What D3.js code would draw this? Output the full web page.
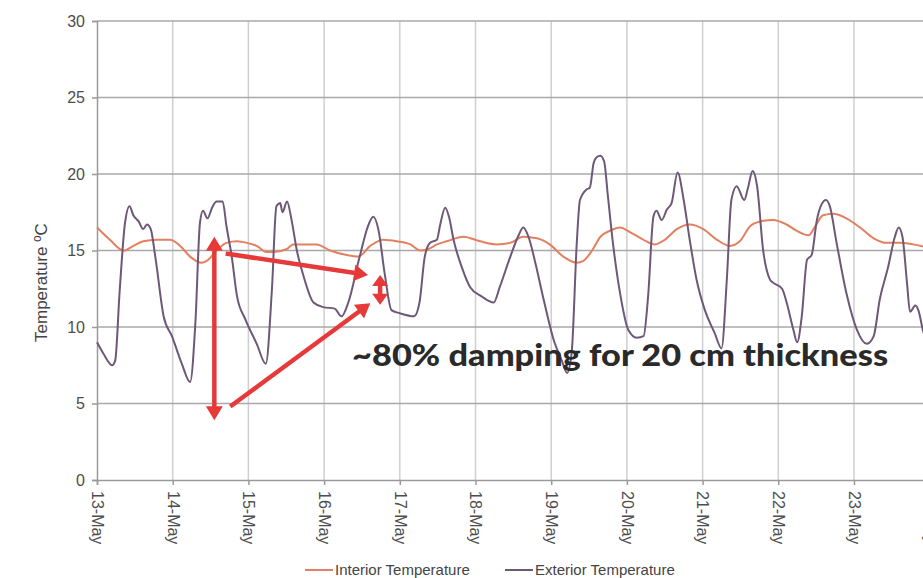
<!DOCTYPE html>
<html>
<head>
<meta charset="utf-8">
<script src="https://cdn.jsdelivr.net/npm/d3@7/dist/d3.min.js"></script>
<style>
  html, body { margin: 0; padding: 0; background: #fff; }
  svg { display: block; }
</style>
</head>
<body>
<svg id="chart" width="923" height="578"></svg>
<script>
// Day labels along the time axis (day 0 = 13 May, 00:00)
const dayLabels = ["13-May", "14-May", "15-May", "16-May", "17-May", "18-May",
                   "19-May", "20-May", "21-May", "22-May", "23-May", "24-May"];
const tempTicks = [0, 5, 10, 15, 20, 25, 30];

// Exterior air temperature (days since 13 May, °C)
const exteriorDay = [0.00,0.08,0.20,0.24,0.30,0.37,0.43,0.48,0.55,0.61,0.66,0.71,0.77,0.88,0.99,1.12,1.23,1.30,1.36,1.40,
  1.46,1.52,1.58,1.66,1.71,1.78,1.85,1.96,2.11,2.23,2.31,2.37,2.42,2.45,2.51,2.57,2.64,2.73,2.86,2.99,
  3.14,3.23,3.32,3.47,3.58,3.65,3.72,3.80,3.89,4.00,4.19,4.26,4.33,4.40,4.49,4.53,4.60,4.65,4.71,4.82,
  4.93,5.08,5.24,5.32,5.46,5.57,5.63,5.70,5.79,5.90,6.03,6.14,6.21,6.27,6.34,6.38,6.47,6.51,6.56,6.60,
  6.65,6.70,6.75,6.82,6.91,7.02,7.13,7.22,7.28,7.35,7.39,7.46,7.53,7.59,7.67,7.75,7.83,7.92,8.03,8.16,
  8.25,8.32,8.38,8.45,8.55,8.60,8.66,8.72,8.80,8.89,8.93,9.05,9.11,9.20,9.25,9.31,9.38,9.44,9.51,9.57,
  9.63,9.68,9.77,9.90,10.04,10.17,10.26,10.34,10.45,10.54,10.59,10.64,10.70,10.74,10.81,10.85,10.91,10.97];
const exteriorTemp = [9.0,8.3,7.5,7.8,12.4,16.8,17.9,17.3,16.9,16.4,16.7,16.4,14.6,10.7,9.4,7.6,6.4,10.3,16.8,17.6,
  17.1,17.8,18.2,18.2,16.6,14.6,12.0,10.5,8.9,7.6,12.4,17.9,18.1,17.5,18.2,17.0,15.0,13.3,11.6,11.3,
  11.2,10.7,11.6,14.6,16.6,17.2,16.3,13.5,11.1,10.9,10.7,11.6,14.6,15.5,15.7,16.6,17.8,17.2,15.7,13.9,
  12.6,12.0,11.6,12.6,14.6,16.0,16.5,15.9,14.2,11.8,9.2,7.8,7.0,8.3,15.7,18.3,19.0,19.1,20.7,21.1,
  21.2,20.8,18.5,15.3,12.2,9.8,9.3,9.4,12.0,17.2,17.6,17.0,17.7,18.1,20.1,18.3,15.7,13.1,11.1,9.6,
  8.6,13.1,18.3,19.2,18.3,19.1,20.2,19.2,15.0,13.1,12.9,12.5,11.6,9.8,9.0,10.7,14.4,14.7,17.0,18.0,
  18.3,17.9,15.5,12.2,9.8,8.9,9.4,11.8,13.9,15.9,16.5,15.9,12.9,11.0,11.4,11.1,9.8,8.8];

// Interior temperature behind the 20 cm wall (days since 13 May, °C)
const interiorDay = [0.00,0.17,0.35,0.48,0.61,0.79,0.96,1.10,1.23,1.38,1.47,1.58,1.71,1.85,1.98,2.11,2.24,2.33,2.51,2.59,
  2.73,2.90,3.08,3.30,3.45,3.61,3.78,3.96,4.14,4.27,4.38,4.49,4.62,4.84,5.06,5.28,5.46,5.63,5.81,5.98,
  6.16,6.34,6.42,6.54,6.65,6.78,6.91,7.04,7.22,7.37,7.50,7.66,7.83,8.01,8.19,8.36,8.49,8.63,8.76,8.93,
  9.11,9.24,9.40,9.49,9.59,9.73,9.90,10.08,10.26,10.43,10.61,10.78,10.97];
const interiorTemp = [16.5,15.7,15.0,15.3,15.6,15.7,15.7,15.3,14.6,14.2,14.4,15.0,15.5,15.6,15.5,15.3,14.9,14.9,15.1,15.4,
  15.4,15.4,15.0,14.7,14.6,15.3,15.7,15.6,15.4,15.0,15.1,15.4,15.6,15.9,15.6,15.4,15.5,15.9,15.8,15.4,
  14.6,14.2,14.3,15.0,15.9,16.3,16.5,16.2,15.7,15.4,15.7,16.4,16.7,16.4,15.7,15.3,15.6,16.6,16.9,17.0,
  16.7,16.3,16.0,16.6,17.3,17.4,17.1,16.5,15.8,15.5,15.5,15.4,15.2];

const seriesNames = ["Interior Temperature", "Exterior Temperature"];
const seriesColors = ["#e2805f", "#6e5878"];

// Annotation: exterior swing vs. damped interior swing
const swingDay = 1.55, swingTop = 15.9, swingBottom = 3.9;
const dampDay = 3.74, dampTop = 13.4, dampBottom = 11.45;
const pointerFrom = [[1.70, 14.8], [1.76, 4.8]];
const pointerTo = [[3.58, 13.4], [3.61, 11.55]];
const noteText = "~80% damping for 20 cm thickness";
const noteAt = [3.37, 7.45];

(function draw() {
  const svg = d3.select("#chart");
  const plotLeft = 97, plotTop = 21, plotBottom = 480, dayWidth = 75.7;

  const x = d3.scaleLinear().domain([0, 11.5]).range([plotLeft, plotLeft + 11.5 * dayWidth]);
  const y = d3.scaleLinear().domain([0, 30]).range([plotBottom, plotTop]);

  // Grid
  const grid = svg.append("g");
  grid.selectAll("line.v").data(d3.range(1, dayLabels.length)).join("line")
    .attr("x1", d => x(d)).attr("x2", d => x(d))
    .attr("y1", y(30)).attr("y2", y(0))
    .attr("stroke", "#cfcfcf").attr("stroke-width", 1.5);
  grid.selectAll("line.h").data(tempTicks.slice(1)).join("line")
    .attr("x1", x(0)).attr("x2", x(11.5))
    .attr("y1", d => y(d)).attr("y2", d => y(d))
    .attr("stroke", "#a9a9a9").attr("stroke-width", 1.5);

  // Axes
  const yAxis = svg.append("g").attr("transform", `translate(${x(0)},0)`)
    .call(d3.axisLeft(y).tickValues(tempTicks).tickSize(5).tickPadding(7));
  const xAxis = svg.append("g").attr("transform", `translate(0,${y(0)})`)
    .call(d3.axisBottom(x).tickValues(d3.range(dayLabels.length)).tickSize(5)
          .tickFormat(d => dayLabels[d]));
  [yAxis, xAxis].forEach(g => {
    g.select(".domain").attr("stroke", "#9a9a9a").attr("stroke-width", 1.5);
    g.selectAll(".tick line").attr("stroke", "#9a9a9a").attr("stroke-width", 1.5);
    g.selectAll("text").attr("fill", "#4d4d4d").attr("font-size", 16)
      .attr("font-family", "'Liberation Sans', Arial, sans-serif");
  });
  xAxis.selectAll(".tick text")
    .attr("transform", "rotate(90)")
    .attr("x", 11).attr("y", 0).attr("dy", "0.35em")
    .attr("text-anchor", "start");

  svg.append("text")
    .attr("transform", `translate(47,${y(12.9)}) rotate(-90)`)
    .attr("text-anchor", "middle")
    .attr("font-family", "'Liberation Sans', Arial, sans-serif")
    .attr("font-size", 17).attr("fill", "#444")
    .text("Temperature ºC");

  // Series
  const line = d3.line().x(d => x(d[0])).y(d => y(d[1])).curve(d3.curveMonotoneX);
  const interior = d3.zip(interiorDay, interiorTemp);
  const exterior = d3.zip(exteriorDay, exteriorTemp);
  svg.append("path").datum(interior).attr("d", line)
    .attr("fill", "none").attr("stroke", seriesColors[0]).attr("stroke-width", 2);
  svg.append("path").datum(exterior).attr("d", line)
    .attr("fill", "none").attr("stroke", seriesColors[1]).attr("stroke-width", 2);

  // Legend
  const legend = svg.append("g");
  const legendX = [305, 505];
  seriesNames.forEach((name, i) => {
    legend.append("line").attr("x1", legendX[i]).attr("x2", legendX[i] + 28)
      .attr("y1", 570).attr("y2", 570)
      .attr("stroke", seriesColors[i]).attr("stroke-width", 2);
    legend.append("text").attr("x", legendX[i] + 30).attr("y", 575)
      .attr("font-family", "'Liberation Sans', Arial, sans-serif")
      .attr("font-size", 15).attr("fill", "#444").text(name);
  });

  // Red annotation arrows
  const red = "#e63a3a";
  const ann = svg.append("g");
  function head(tip, from, len, half) {
    const dx = tip[0] - from[0], dy = tip[1] - from[1];
    const L = Math.hypot(dx, dy), ux = dx / L, uy = dy / L;
    const bx = tip[0] - ux * len, by = tip[1] - uy * len;
    ann.append("path")
      .attr("d", `M${tip[0]},${tip[1]}L${bx - uy * half},${by + ux * half}L${bx + uy * half},${by - ux * half}Z`)
      .attr("fill", red);
    return [bx + ux, by + uy];
  }
  function arrow(p0, p1, both, len, half) {
    const a = [x(p0[0]), y(p0[1])], b = [x(p1[0]), y(p1[1])];
    const e = head(b, a, len, half);
    const s = both ? head(a, b, len, half) : a;
    ann.append("line").attr("x1", s[0]).attr("y1", s[1]).attr("x2", e[0]).attr("y2", e[1])
      .attr("stroke", red).attr("stroke-width", 4.5);
  }
  arrow([swingDay, swingTop], [swingDay, swingBottom], true, 14, 8.5);
  arrow(pointerFrom[0], pointerTo[0], false, 14, 8.5);
  arrow(pointerFrom[1], pointerTo[1], false, 14, 8.5);
  arrow([dampDay, dampTop], [dampDay, dampBottom], true, 11, 8);

  svg.append("text")
    .attr("x", x(noteAt[0])).attr("y", y(noteAt[1]))
    .attr("font-family", "Lato, 'Open Sans', sans-serif")
    .attr("font-weight", 900).attr("font-size", 30).attr("fill", "#2a2a2a")
    .attr("textLength", 536).attr("lengthAdjust", "spacingAndGlyphs")
    .text(noteText);
})();
</script>
</body>
</html>
